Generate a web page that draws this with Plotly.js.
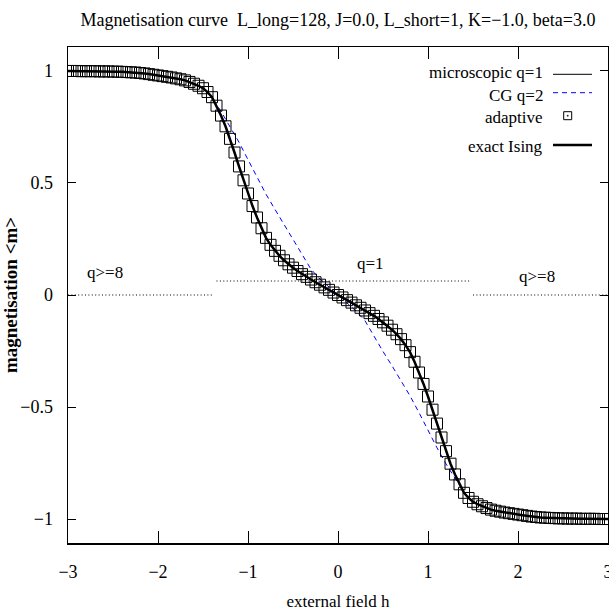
<!DOCTYPE html>
<html><head><meta charset="utf-8">
<script src="https://cdn.plot.ly/plotly-3.0.1.min.js"></script>
<style>html,body{margin:0;padding:0;background:#fff;}</style>
</head><body><div id="chart" style="width:609px;height:613px;"></div>
<script>
// external field grid (adaptive / microscopic / exact)
const hFine = [-3.00,-2.95,-2.90,-2.85,-2.80,-2.75,-2.70,-2.65,-2.60,-2.55,-2.50,-2.45,-2.40,-2.35,-2.30,-2.25,-2.20,-2.15,-2.10,-2.05,
 -2.00,-1.95,-1.90,-1.85,-1.80,-1.75,-1.70,-1.65,-1.60,-1.55,-1.50,-1.45,-1.40,-1.35,-1.30,-1.25,-1.20,-1.15,-1.10,-1.05,
 -1.00,-0.95,-0.90,-0.85,-0.80,-0.75,-0.70,-0.65,-0.60,-0.55,-0.50,-0.45,-0.40,-0.35,-0.30,-0.25,-0.20,-0.15,-0.10,-0.05,
 0.00,0.05,0.10,0.15,0.20,0.25,0.30,0.35,0.40,0.45,0.50,0.55,0.60,0.65,0.70,0.75,0.80,0.85,0.90,0.95,
 1.00,1.05,1.10,1.15,1.20,1.25,1.30,1.35,1.40,1.45,1.50,1.55,1.60,1.65,1.70,1.75,1.80,1.85,1.90,1.95,
 2.00,2.05,2.10,2.15,2.20,2.25,2.30,2.35,2.40,2.45,2.50,2.55,2.60,2.65,2.70,2.75,2.80,2.85,2.90,2.95,3.00];
// magnetisation (exact Ising / microscopic q=1 / adaptive coincide)
const mExact = [1.000,1.000,1.000,0.999,0.999,0.999,0.999,0.998,0.998,0.998,0.997,0.997,0.996,0.995,0.994,0.993,0.991,0.989,0.986,0.983,
 0.980,0.977,0.974,0.971,0.967,0.963,0.958,0.951,0.943,0.934,0.923,0.906,0.883,0.845,0.801,0.753,0.697,0.636,0.574,0.512,
 0.453,0.397,0.346,0.298,0.255,0.224,0.197,0.175,0.155,0.137,0.122,0.107,0.093,0.081,0.069,0.057,0.046,0.034,0.023,0.011,
 0.000,-0.011,-0.023,-0.034,-0.046,-0.057,-0.069,-0.081,-0.093,-0.107,-0.122,-0.137,-0.155,-0.175,-0.197,-0.224,-0.255,-0.298,-0.346,-0.397,
 -0.453,-0.512,-0.574,-0.636,-0.697,-0.753,-0.801,-0.845,-0.883,-0.906,-0.923,-0.934,-0.943,-0.951,-0.958,-0.963,-0.967,-0.971,-0.974,-0.977,
 -0.980,-0.983,-0.986,-0.989,-0.991,-0.993,-0.994,-0.995,-0.996,-0.997,-0.997,-0.998,-0.998,-0.998,-0.999,-0.999,-0.999,-0.999,-1.000,-1.000,-1.000];
// coarse-grained q=2
const hCG = [-3.0,-2.9,-2.8,-2.7,-2.6,-2.5,-2.4,-2.3,-2.2,-2.1,-2.0,-1.9,-1.8,-1.7,-1.6,-1.5,-1.4,-1.3,-1.2,-1.1,
 -1.0,-0.9,-0.8,-0.7,-0.6,-0.5,-0.4,-0.3,-0.2,-0.1,0.0,0.1,0.2,0.3,0.4,0.5,0.6,0.7,0.8,0.9,
 1.0,1.1,1.2,1.3,1.4,1.5,1.6,1.7,1.8,1.9,2.0,2.1,2.2,2.3,2.4,2.5,2.6,2.7,2.8,2.9,3.0];
const mCG = [1.000,1.000,0.999,0.999,0.998,0.997,0.996,0.994,0.991,0.986,0.980,0.974,0.967,0.958,0.943,0.922,0.882,0.820,0.754,0.682,
 0.604,0.525,0.450,0.382,0.316,0.252,0.186,0.115,0.071,0.035,0.000,-0.035,-0.071,-0.115,-0.186,-0.252,-0.316,-0.382,-0.450,-0.525,
 -0.604,-0.682,-0.754,-0.820,-0.882,-0.922,-0.943,-0.958,-0.967,-0.974,-0.980,-0.986,-0.991,-0.994,-0.996,-0.997,-0.998,-0.999,-0.999,-1.000,-1.000];
// q-level indicator segments
const qLowH = [-3.0,-1.39], qLowM = [0,0];
const qOneH = [-1.35,1.47], qOneM = [0.0625,0.0625];
const qHighH = [1.5,3.0], qHighM = [0,0];
const qLabels = ['q>=8','q=1','q>=8'];
const qLabelH = [-2.59,0.36,2.21];
const qLabelM = [0.100,0.140,0.084];
const xTicks = [-3,-2,-1,0,1,2,3];
const yTicks = [-1,-0.5,0,0.5,1];
const legendLabels = ['microscopic q=1','CG q=2','adaptive','exact Ising'];

const FONT = "Liberation Serif, Times New Roman, serif";
const traces = [
  {x:hFine, y:mExact, mode:'lines', line:{color:'black', width:1}, name:legendLabels[0]},
  {x:hCG, y:mCG, mode:'lines', line:{color:'#0000ff', width:1, dash:'5px,4px'}, name:legendLabels[1]},
  {x:hFine, y:mExact, mode:'markers', marker:{symbol:'square-open', size:11, color:'black', line:{width:1, color:'black'}}, name:legendLabels[2]},
  {x:hFine, y:mExact, mode:'lines', line:{color:'black', width:2.5}, name:legendLabels[3]},
  {x:qLowH, y:qLowM, mode:'lines', line:{color:'black', width:1, dash:'1px,2.4px'}},
  {x:qOneH, y:qOneM, mode:'lines', line:{color:'black', width:1, dash:'1px,2.4px'}},
  {x:qHighH, y:qHighM, mode:'lines', line:{color:'black', width:1, dash:'1px,2.4px'}}
];

const pxX = v => (v-68)/540, pxY = v => (543-v)/496;
const annotations = qLabels.map((t,i)=>({x:qLabelH[i], y:qLabelM[i], xref:'x', yref:'y', text:t, showarrow:false, font:{family:FONT, size:17, color:'black'}}));
const legY = [73, 95, 117, 146];
legendLabels.forEach((t,i)=>annotations.push({x:pxX(545), y:pxY(legY[i]), xref:'paper', yref:'paper', xanchor:'right', yanchor:'middle', text:t, showarrow:false, font:{family:FONT, size:17, color:'black'}}));

const shapes = [
  {type:'line', xref:'paper', yref:'paper', x0:pxX(553), x1:pxX(592), y0:pxY(74.3), y1:pxY(74.3), line:{color:'black', width:1}},
  {type:'line', xref:'paper', yref:'paper', x0:pxX(553), x1:pxX(592), y0:pxY(92.7), y1:pxY(92.7), line:{color:'#0000ff', width:1, dash:'5px,4px'}},
  {type:'rect', xref:'paper', yref:'paper', xsizemode:'pixel', ysizemode:'pixel', xanchor:pxX(567.7), yanchor:pxY(115.7), x0:-4, x1:4, y0:-4, y1:4, line:{color:'black', width:1}},
  {type:'rect', xref:'paper', yref:'paper', xsizemode:'pixel', ysizemode:'pixel', xanchor:pxX(567.7), yanchor:pxY(115.7), x0:-0.5, x1:0.5, y0:-0.5, y1:0.5, line:{color:'black', width:0.5}, fillcolor:'black'},
  {type:'line', xref:'paper', yref:'paper', x0:pxX(553), x1:pxX(592), y0:pxY(145), y1:pxY(145), line:{color:'black', width:2.5}}
];

const axisCommon = {showline:true, linecolor:'black', linewidth:1.5, mirror:'ticks', ticks:'inside', tickcolor:'black', tickwidth:1,
  showgrid:false, zeroline:false, ticklabeloverflow:'allow', tickfont:{family:FONT, size:18, color:'black'}};

const layout = {
  width:609, height:613, margin:{l:68, r:1, t:47, b:70},
  paper_bgcolor:'white', plot_bgcolor:'white', showlegend:false,
  font:{family:FONT, color:'black'},
  title:{text:'Magnetisation curve\u00a0 L_long=128, J=0.0, L_short=1, K=\u22121.0, beta=3.0', font:{family:FONT, size:18, color:'black'}, x:0.5, xref:'paper', y:1-20/613, yanchor:'middle'},
  xaxis:Object.assign({}, axisCommon, {range:[-3,3], tickvals:xTicks, ticklen:12, ticklabelstandoff:12,
    title:{text:'external field h', font:{family:FONT, size:17, color:'black'}, standoff:14}}),
  yaxis:Object.assign({}, axisCommon, {range:[-1.107,1.107], tickvals:yTicks, ticklen:8, ticklabelstandoff:10,
    title:{text:'<b>magnetisation &lt;m&gt;</b>', font:{family:FONT, size:19, color:'black'}, standoff:6}}),
  annotations:annotations, shapes:shapes
};
Plotly.newPlot('chart', traces, layout, {displayModeBar:false, staticPlot:true});
</script></body></html>
